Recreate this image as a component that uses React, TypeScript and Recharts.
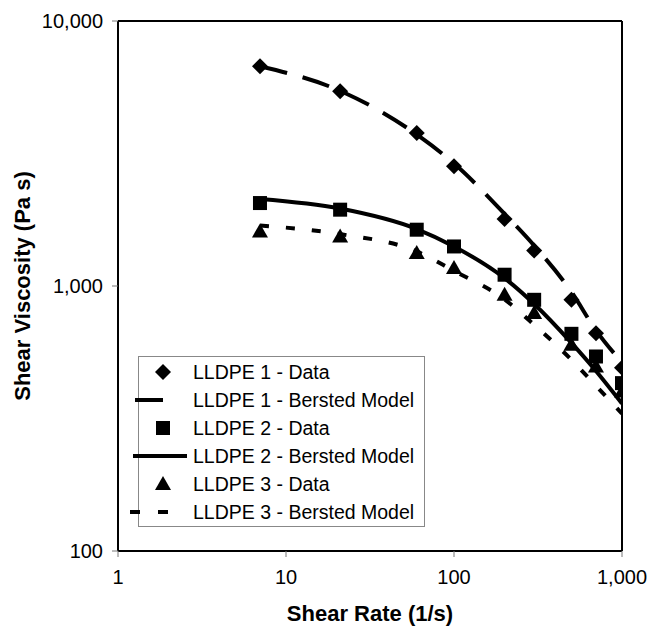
import React from "react";
import {
  ComposedChart,
  Line,
  Scatter,
  XAxis,
  YAxis,
  Legend,
  Label,
  ReferenceLine,
} from "recharts";

// shear rate (1/s) and viscosity (Pa s)
const shearRate = [7, 21, 60, 100, 200, 300, 500, 700, 1000];
const lldpe1Data = [6750, 5430, 3780, 2830, 1790, 1360, 887, 664, 492];
const lldpe2Data = [2056, 1941, 1631, 1410, 1103, 887, 660, 542, 430];
const lldpe3Data = [1607, 1539, 1331, 1169, 927, 791, 600, 497, 400];
const lldpe1Model = [6750, 5450, 3730, 2900, 1870, 1420, 950, 680, 515];
const lldpe2Model = [2130, 1960, 1640, 1410, 1070, 855, 610, 478, 360];
const lldpe3Model = [1690, 1570, 1350, 1140, 890, 714, 527, 420, 330];

const xTicks = [1, 10, 100, 1000];
const yTicks = [100, 1000, 10000];
const legendNames = [
  "LLDPE 1 - Data",
  "LLDPE 1 - Bersted Model",
  "LLDPE 2 - Data",
  "LLDPE 2 - Bersted Model",
  "LLDPE 3 - Data",
  "LLDPE 3 - Bersted Model",
];

const FONT = '"Liberation Sans", Arial, sans-serif';

const toPoints = (ys: number[]) => shearRate.map((rate, i) => ({ rate, visc: ys[i] }));

const fmt = (v: number) => v.toLocaleString("en-US");

const Diamond = (p: any) => (
  <polygon
    points={`${p.cx},${p.cy - 8} ${p.cx + 8},${p.cy} ${p.cx},${p.cy + 8} ${p.cx - 8},${p.cy}`}
    fill="#000"
  />
);
const Square = (p: any) => <rect x={p.cx - 7} y={p.cy - 7} width={14} height={14} fill="#000" />;
const Triangle = (p: any) => (
  <polygon
    points={`${p.cx},${p.cy - 8} ${p.cx + 8},${p.cy + 6} ${p.cx - 8},${p.cy + 6}`}
    fill="#000"
  />
);

function LegendBox() {
  const rowY = (i: number) => 16 + i * 28;
  return (
    <div
      style={{
        width: 287,
        height: 171,
        border: "1px solid #888",
        boxSizing: "border-box",
        background: "#fff",
      }}
    >
      <svg width={287} height={171} style={{ overflow: "visible", position: "absolute", left: 0, top: 0 }}>
        <Diamond cx={25} cy={rowY(0)} />
        <line x1={-3} x2={25} y1={rowY(1)} y2={rowY(1)} stroke="#000" strokeWidth={4} />
        <Square cx={25} cy={rowY(2)} />
        <line x1={-5} x2={49} y1={rowY(3)} y2={rowY(3)} stroke="#000" strokeWidth={4} />
        <Triangle cx={25} cy={rowY(4)} />
        <line x1={-8} x2={30} y1={rowY(5)} y2={rowY(5)} stroke="#000" strokeWidth={4} strokeDasharray="10 18" />
        {legendNames.map((name, i) => (
          <text key={name} x={55} y={rowY(i) + 7} fontSize={19.5} fontFamily={FONT} fill="#000">
            {name}
          </text>
        ))}
      </svg>
    </div>
  );
}

export default function App() {
  return (
    <div style={{ position: "absolute", left: 0, top: 0, background: "#fff" }}>
      <ComposedChart width={649} height={626} margin={{ top: 21, right: 27, left: 0, bottom: 0 }}>
        <XAxis
          dataKey="rate"
          type="number"
          scale="log"
          domain={[1, 1000]}
          ticks={xTicks}
          tickFormatter={fmt}
          height={75}
          allowDataOverflow
          axisLine={{ stroke: "#000", strokeWidth: 2 }}
          tickLine={{ stroke: "#777", strokeWidth: 1 }}
          tickSize={6}
          tickMargin={13}
          tick={{ fill: "#000", fontSize: 20, fontFamily: FONT }}
        >
          <Label
            value="Shear Rate (1/s)"
            position="insideBottom"
            offset={5}
            style={{ fontSize: 22, fontWeight: "bold", fontFamily: FONT, fill: "#000" }}
          />
        </XAxis>
        <YAxis
          dataKey="visc"
          type="number"
          scale="log"
          domain={[100, 10000]}
          ticks={yTicks}
          tickFormatter={fmt}
          width={118}
          allowDataOverflow
          axisLine={{ stroke: "#000", strokeWidth: 2 }}
          tickLine={{ stroke: "#777", strokeWidth: 1 }}
          tickSize={6}
          tickMargin={9}
          tick={{ fill: "#000", fontSize: 20, fontFamily: FONT }}
        >
          <Label
            value="Shear Viscosity (Pa s)"
            angle={-90}
            position="insideLeft"
            offset={22}
            textAnchor="middle"
            style={{ fontSize: 22, fontWeight: "bold", fontFamily: FONT, fill: "#000", textAnchor: "middle" }}
          />
        </YAxis>
        <ReferenceLine y={10000} stroke="#000" strokeWidth={2} ifOverflow="visible" />
        <ReferenceLine x={1000} stroke="#000" strokeWidth={2} ifOverflow="visible" />

        <Scatter name={legendNames[0]} data={toPoints(lldpe1Data)} dataKey="visc" shape={Diamond} isAnimationActive={false} />
        <Line
          name={legendNames[1]}
          data={toPoints(lldpe1Model)}
          dataKey="visc"
          type="monotone"
          stroke="#000"
          strokeWidth={4}
          strokeDasharray="28 16"
          dot={false}
          isAnimationActive={false}
        />
        <Scatter name={legendNames[2]} data={toPoints(lldpe2Data)} dataKey="visc" shape={Square} isAnimationActive={false} />
        <Line
          name={legendNames[3]}
          data={toPoints(lldpe2Model)}
          dataKey="visc"
          type="monotone"
          stroke="#000"
          strokeWidth={4}
          dot={false}
          isAnimationActive={false}
        />
        <Scatter name={legendNames[4]} data={toPoints(lldpe3Data)} dataKey="visc" shape={Triangle} isAnimationActive={false} />
        <Line
          name={legendNames[5]}
          data={toPoints(lldpe3Model)}
          dataKey="visc"
          type="monotone"
          stroke="#000"
          strokeWidth={4}
          strokeDasharray="9 17"
          dot={false}
          isAnimationActive={false}
        />
        <Legend
          layout="vertical"
          align="center"
          verticalAlign="middle"
          wrapperStyle={{ left: 138, top: 356, width: 287, height: 171 }}
          content={() => <LegendBox />}
        />
      </ComposedChart>
    </div>
  );
}
